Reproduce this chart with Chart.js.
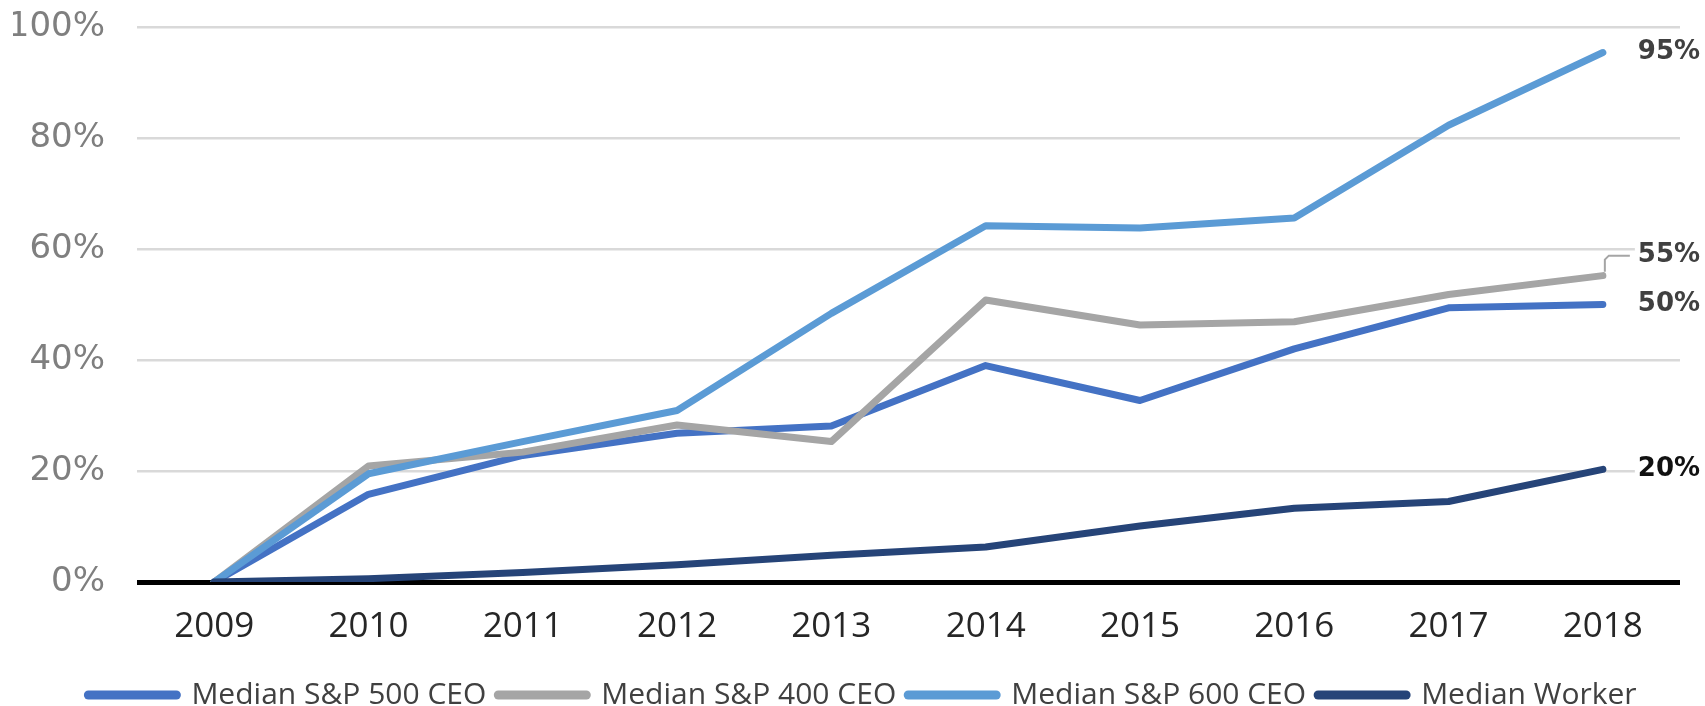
<!DOCTYPE html>
<html>
<head>
<meta charset="utf-8">
<script src="https://cdn.jsdelivr.net/npm/chart.js@4.4.1/dist/chart.umd.min.js"></script>
<style>
  html, body { margin: 0; padding: 0; background: #fff; }
</style>
</head>
<body>
<canvas id="payChart" width="1705" height="706"></canvas>
<script>
// Cumulative pay growth since 2009, in percent
const years = ['2009', '2010', '2011', '2012', '2013', '2014', '2015', '2016', '2017', '2018'];
const sp500Ceo = [0, 15.8, 22.8, 26.8, 28.1, 39.0, 32.7, 42.0, 49.4, 50.0];
const sp400Ceo = [0, 20.9, 23.4, 28.3, 25.3, 50.8, 46.3, 46.9, 51.8, 55.2];
const sp600Ceo = [0, 19.5, 25.3, 30.9, 48.4, 64.2, 63.8, 65.6, 82.3, 95.4];
const medianWorker = [0, 0.6, 1.7, 3.1, 4.8, 6.3, 10.1, 13.3, 14.5, 20.3];
const yTicks = [0, 20, 40, 60, 80, 100];

// Labels at the end of each line (95%, 55%, ...)
const endLabels = {
    id: 'endLabels',
    afterDatasetsDraw(chart) {
        const ctx = chart.ctx;
        ctx.save();
        ctx.font = 'bold 26px "DejaVu Sans"';
        ctx.textAlign = 'left';
        ctx.textBaseline = 'middle';
        chart.data.datasets.forEach((ds, i) => {
            const meta = chart.getDatasetMeta(i);
            const pt = meta.data[meta.data.length - 1];
            const txt = Math.round(ds.data[ds.data.length - 1]) + '%';
            const lift = ds.labelLift || 0;
            const x = pt.x + 35;
            const y = pt.y - lift;
            const w = ctx.measureText(txt).width;
            ctx.fillStyle = '#fff';
            ctx.fillRect(x - 3, y - 13, w + 6, 26);
            if (lift) {
                // leader line from the point to the lifted label
                ctx.strokeStyle = '#a5a5a5';
                ctx.lineWidth = 2;
                ctx.beginPath();
                ctx.moveTo(pt.x + 2, pt.y - 4);
                ctx.lineTo(pt.x + 2, y + 4);
                ctx.lineTo(pt.x + 6, y);
                ctx.lineTo(x - 8, y);
                ctx.stroke();
            }
            ctx.fillStyle = ds.labelColor || '#404040';
            ctx.fillText(txt, x, y);
        });
        ctx.restore();
    }
};

// Move the legend a little lower and to the right
const legendNudge = {
    id: 'legendNudge',
    afterLayout(chart) {
        chart.legend.top += 14;
        chart.legend.bottom += 14;
        chart.legend.left += 16;
        chart.legend.right += 16;
    }
};

const lineStyle = {
    fill: false,
    tension: 0,
    borderWidth: 7,
    pointRadius: 0,
    pointHoverRadius: 0,
    pointStyle: 'line',
    borderCapStyle: 'round',
    borderJoinStyle: 'round'
};

const ctx = document.getElementById('payChart').getContext('2d');

const payChart = new Chart(ctx, {
    type: 'line',
    data: {
        labels: years,
        datasets: [
            Object.assign({ label: 'Median S&P 500 CEO', data: sp500Ceo, borderColor: '#4472c4', backgroundColor: '#4472c4', order: 4 }, lineStyle),
            Object.assign({ label: 'Median S&P 400 CEO', data: sp400Ceo, borderColor: '#a5a5a5', backgroundColor: '#a5a5a5', order: 3, labelLift: 20 }, lineStyle),
            Object.assign({ label: 'Median S&P 600 CEO', data: sp600Ceo, borderColor: '#5b9bd5', backgroundColor: '#5b9bd5', order: 2 }, lineStyle),
            Object.assign({ label: 'Median Worker', data: medianWorker, borderColor: '#264478', backgroundColor: '#264478', order: 1, labelColor: '#111' }, lineStyle)
        ]
    },
    options: {
        responsive: false,
        animation: false,
        layout: { padding: { left: 13, right: 25, top: 27, bottom: 0 } },
        plugins: {
            tooltip: { enabled: false },
            legend: {
                position: 'bottom',
                labels: {
                    usePointStyle: true,
                    pointStyleWidth: 88,
                    padding: 12,
                    color: '#404040',
                    font: { family: 'Open Sans', size: 30 },
                    sort: (a, b) => a.datasetIndex - b.datasetIndex,
                    generateLabels(chart) {
                        const items = Chart.defaults.plugins.legend.labels.generateLabels(chart);
                        items.forEach(it => {
                            it.pointStyle = 'line';
                            it.lineWidth = 9;
                            it.lineCap = 'round';
                        });
                        return items;
                    }
                }
            }
        },
        scales: {
            x: {
                offset: true,
                afterFit: scale => { scale.height = 72; },
                grid: { display: false, drawTicks: false },
                border: { display: false },
                ticks: {
                    color: '#262626',
                    font: { family: 'Open Sans', size: 35 },
                    padding: 24
                }
            },
            y: {
                min: 0,
                max: 100,
                afterFit: scale => {
                    scale.width = 124;
                    scale.paddingTop = 0;
                    scale.paddingBottom = 0;
                },
                afterBuildTicks: scale => { scale.ticks = yTicks.map(v => ({ value: v })); },
                border: { display: false },
                grid: {
                    drawTicks: false,
                    color: c => c.tick.value === 0 ? '#000' : '#d9d9d9',
                    lineWidth: c => c.tick.value === 0 ? 5 : 2.5
                },
                ticks: {
                    color: '#7f7f7f',
                    font: { family: 'DejaVu Sans', size: 34 },
                    padding: 32,
                    callback: v => v + '%'
                }
            }
        }
    },
    plugins: [endLabels, legendNudge]
});
</script>
</body>
</html>
